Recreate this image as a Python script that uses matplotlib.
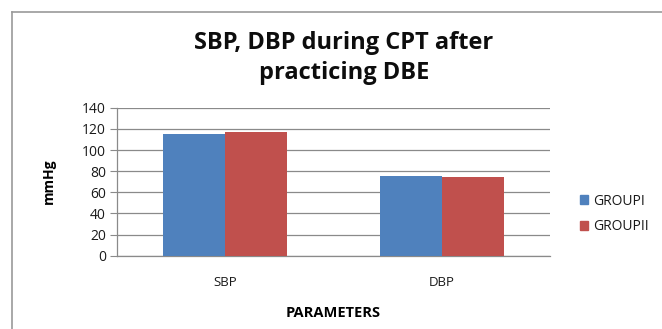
import matplotlib
matplotlib.use("Agg")
import matplotlib.pyplot as plt
from matplotlib.lines import Line2D
import numpy as np

categories = ["SBP", "DBP"]
group1 = [115.7, 75.6]
group2 = [117.3, 74.6]
series_names = ["GROUPI", "GROUPII"]
yticks = [0, 20, 40, 60, 80, 100, 120, 140]

plt.rcParams['font.family'] = ['Open Sans', 'DejaVu Sans']

W, H = 662, 329
fig = plt.figure(figsize=(W / 100, H / 100), dpi=100)
fig.patch.set_facecolor("white")

ax = fig.add_axes([117 / W, 1 - 255.6 / H, (550 - 117) / W, (255.6 - 107.9) / H])

x = np.arange(len(categories))
bw = 0.2857
blue = "#4F81BD"
red = "#C0504D"
ax.bar(x - bw / 2, group1, width=bw, color=blue, label=series_names[0], zorder=3)
ax.bar(x + bw / 2, group2, width=bw, color=red, label=series_names[1], zorder=3)

ax.set_xlim(-0.5, 1.5)
ax.set_ylim(0, 140)
ax.set_yticks(yticks)
ax.set_xticks(x)
ax.set_xticklabels(categories)
ax.yaxis.grid(True, color="#8a8a8a", linewidth=0.9, zorder=0)
ax.set_axisbelow(True)

for s in ["top", "right"]:
    ax.spines[s].set_visible(False)
ax.spines["left"].set_color("#8a8a8a")
ax.spines["bottom"].set_color("#8a8a8a")
ax.spines["left"].set_linewidth(0.9)
ax.spines["bottom"].set_linewidth(0.9)

ax.tick_params(axis="y", length=5, color="#8a8a8a", labelsize=10, pad=3, labelcolor="#1a1a1a")
ax.tick_params(axis="x", length=0, labelsize=9.5, pad=15, labelcolor="#1a1a1a")

ax.set_ylabel("mmHg", fontsize=10, fontweight="bold", labelpad=19)
ax.set_xlabel("PARAMETERS", fontsize=10.5, fontweight="bold", labelpad=12)

fig.text(344 / W, 1 - 43 / H, "SBP, DBP during CPT after", ha="center", va="center",
         fontsize=17, fontweight="bold", color="#0d0d0d")
fig.text(344 / W, 1 - 73 / H, "practicing DBE", ha="center", va="center",
         fontsize=17, fontweight="bold", color="#0d0d0d")

fig.legend(handles=[plt.Rectangle((0, 0), 1, 1, color=blue),
                    plt.Rectangle((0, 0), 1, 1, color=red)],
           labels=series_names, loc="center left", bbox_to_anchor=(567 / W, 1 - 214 / H),
           frameon=False, fontsize=10, handlelength=0.6, handleheight=0.6,
           handletextpad=0.4, labelspacing=0.75, labelcolor="#1a1a1a")

# outer chart frame
fig.add_artist(Line2D([12 / W, 1.0], [1 - 12 / H, 1 - 12 / H], color="#9a9a9a", linewidth=1.2))
fig.add_artist(Line2D([12 / W, 12 / W], [1 - 12 / H, 0.0], color="#9a9a9a", linewidth=1.2))

fig.savefig("out.png", dpi=100)
